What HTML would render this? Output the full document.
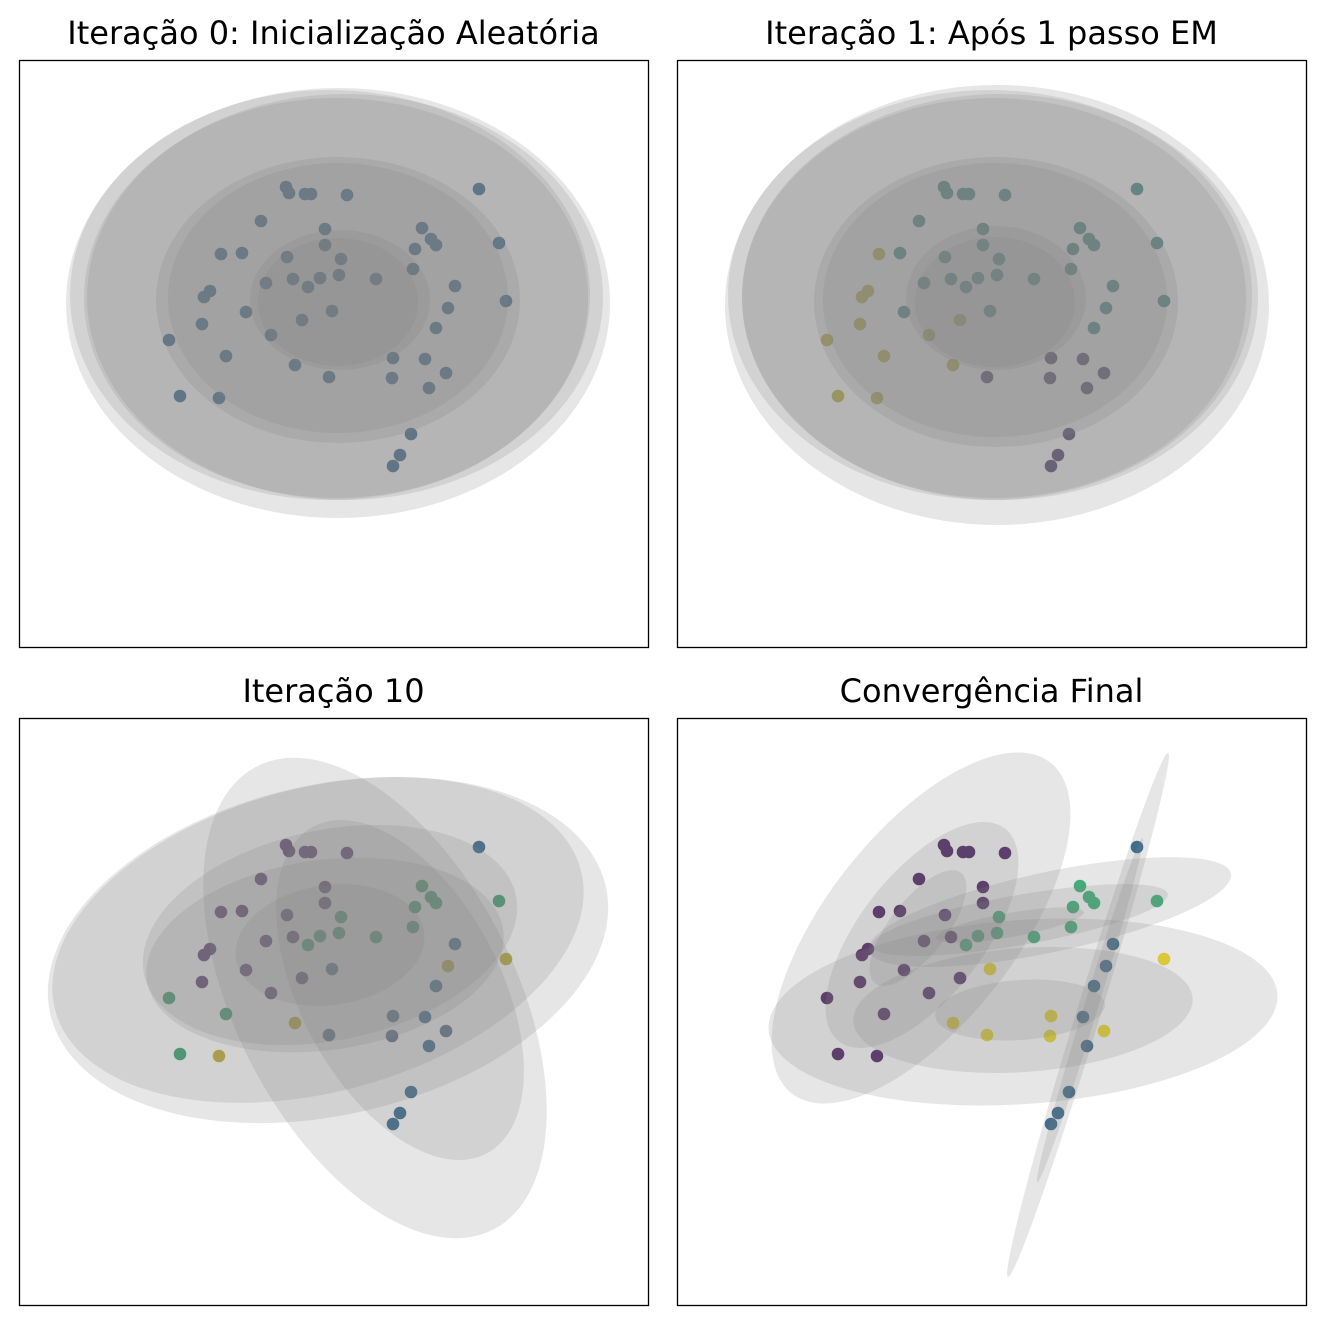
<!DOCTYPE html>
<html><head><meta charset="utf-8"><style>
body{margin:0;background:#fff}
svg{display:block}
text{font-family:"DejaVu Sans","Liberation Sans",sans-serif;font-size:32px;fill:#000}
</style></head><body>
<svg id="s" width="1324" height="1324" xmlns="http://www.w3.org/2000/svg">
<text x="333.5" y="44" text-anchor="middle">Iteração 0: Inicialização Aleatória</text>
<text x="991.5" y="44" text-anchor="middle">Iteração 1: Após 1 passo EM</text>
<text x="333.5" y="702" text-anchor="middle">Iteração 10</text>
<text x="991.5" y="702" text-anchor="middle">Convergência Final</text>
</svg>
<script>
const NS="http://www.w3.org/2000/svg",S=document.getElementById('s');
function el(t,a){const e=document.createElementNS(NS,t);for(const k in a)e.setAttribute(k,a[k]);S.appendChild(e);return e;}
const P={p:[[267,127],[270,133],[286,134],[292,134],[328,135],[242,161],[306,169],[306,185],[202,194],[223,193],[268,197],[247,223],[274,219],[191,231],[185,237],[227,252],[183,264],[252,275],[283,260],[150,280],[207,296],[161,336],[200,338]],
g:[[403,168],[412,179],[417,185],[480,183],[396,189],[322,199],[394,209],[320,215],[301,218],[289,227],[357,219]],
y:[[313,251],[487,241],[374,298],[427,313],[276,305],[310,317],[373,318]],
b:[[460,129],[436,226],[429,248],[417,268],[406,299],[410,328],[392,374],[381,395],[374,406]]};
const O=[[19,60],[677,60],[19,718],[677,718]];
function col(pi,g,x,y){
 if(pi==0)return "#31688e";
 if(pi==1){ if((x<215&&y>185)||(y>255&&x<295))return "#bdb33a"; if(y>290&&x>300)return "#4a3a6a"; return "#3f8a86";}
 if(pi==2){ if(g=='g')return "#35a070"; if(g=='p'){ if(x==200&&y==338)return "#c0b030"; if(x<230&&y>270)return "#35a070"; return "#5a3a70";}
  if(g=='y'){ if(x==487||x==276)return "#c0b030"; return "#4a6a88";}
  if(x==429)return "#c0b030"; return "#31688e";}
 return {p:"#481b5e",g:"#35b779",y:"#f0da25",b:"#31688e"}[g];
}
for(let i=0;i<4;i++){const[ox,oy]=O[i];
 for(const g in P)for(const[x,y]of P[g])el('circle',{cx:ox+x,cy:oy+y,r:6.3,fill:col(i,g,x,y)});}
const E=[
[338,303,272,215,0],[330,295,260,205,0],[345,297,258,203,0],[336,298,252,200,0],[338,300,182,143,0],[338,298,170,135,0],[340,300,90,70,0],[338,302,80,64,0],
[997,305,272,220,0],[990,295,262,205,0],[1000,297,258,203,0],[994,298,252,200,0],[996,302,182,145,0],[995,300,172,137,0],[996,298,90,72,0],[995,302,80,65,0],
[328,950,285,165,-13],[318,940,272,152,-15],[330,935,190,105,-12],[325,955,180,95,-8],[330,945,95,60,-8],[375,998,140,260,-27],[400,990,100,185,-28],
[921,928,95,210,38],[922,935,62,135,38],[918,928,28,70,38],[1023,1012,255,92,-4],[1023,1010,170,62,-4],[1020,1010,85,30,-4],
[1050,912,185,40,-12],[1020,920,150,25,-10],[1010,925,75,12,-10],[1088,1015,274,12,-73],[1090,1010,180,7,-73]];
for(const[cx,cy,rx,ry,a]of E)el('ellipse',{cx,cy,rx,ry,transform:`rotate(${a} ${cx} ${cy})`,fill:"#808080","fill-opacity":0.2});
for(const[ox,oy]of O)el('rect',{x:ox+0.5,y:oy+0.5,width:629,height:587,fill:"none",stroke:"#000","stroke-width":1.3});
</script>
</body></html>
